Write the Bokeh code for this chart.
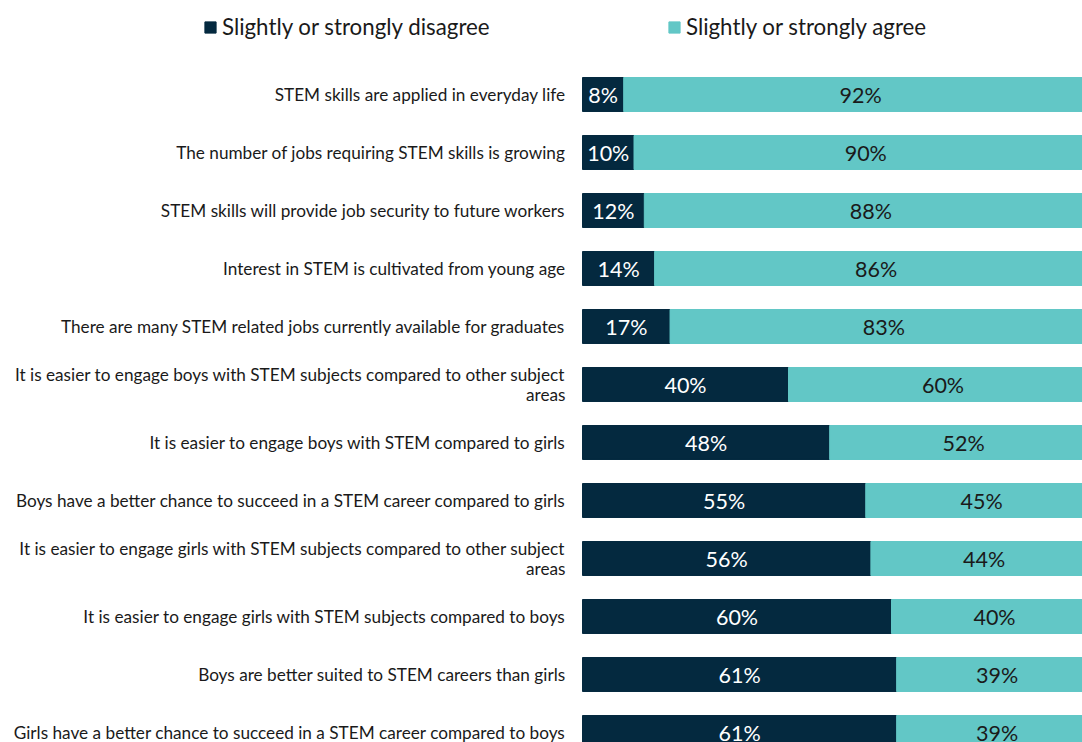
from bokeh.plotting import figure
from bokeh.models import ColumnDataSource, Range1d, Legend, LegendItem
from bokeh.core.properties import value
from bokeh.embed import file_html
from bokeh.resources import INLINE

categories = [
    "STEM skills are applied in everyday life",
    "The number of jobs requiring STEM skills is growing",
    "STEM skills will provide job security to future workers",
    "Interest in STEM is cultivated from young age",
    "There are many STEM related jobs currently available for graduates",
    "It is easier to engage boys with STEM subjects compared to other subject\nareas",
    "It is easier to engage boys with STEM compared to girls",
    "Boys have a better chance to succeed in a STEM career compared to girls",
    "It is easier to engage girls with STEM subjects compared to other subject\nareas",
    "It is easier to engage girls with STEM subjects compared to boys",
    "Boys are better suited to STEM careers than girls",
    "Girls have a better chance to succeed in a STEM career compared to boys",
]
disagree = [8, 10, 12, 14, 17, 40, 48, 55, 56, 60, 61, 61]
agree = [92, 90, 88, 86, 83, 60, 52, 45, 44, 40, 39, 39]
series_names = ["Slightly or strongly disagree", "Slightly or strongly agree"]

DARK = "#04293F"
TEAL = "#62C7C6"
FONT = "Lato"

W, H = 1082, 742
PX = 5.15          # pixels per percent
ROW = 58.0         # pixels per row
x_end = (1082 - 582) / PX
x_start = -582 / PX
y_top = -94 / ROW
y_bot = y_top + H / ROW

idx = list(range(len(categories)))
src = ColumnDataSource(dict(
    y=idx,
    cat=categories,
    d=disagree,
    a=agree,
    a_right=[d + a for d, a in zip(disagree, agree)],
    d_mid=[d / 2 for d in disagree],
    a_mid=[d + a / 2 for d, a in zip(disagree, agree)],
    d_lab=[f"{d}%" for d in disagree],
    a_lab=[f"{a}%" for a in agree],
    lab_x=[-17 / PX] * len(categories),
))

p = figure(width=W, height=H, output_backend="svg", toolbar_location=None,
           x_range=Range1d(x_start, x_end), y_range=Range1d(y_bot, y_top),
           min_border=0, min_border_left=0, min_border_right=0,
           min_border_top=0, min_border_bottom=0)
p.axis.visible = False
p.grid.visible = False
p.outline_line_color = None

r_d = p.hbar(y="y", left=0, right="d", height=0.586, color=DARK, source=src)
r_a = p.hbar(y="y", left="d", right="a_right", height=0.586, color=TEAL, source=src)

p.text(x="d_mid", y="y", text="d_lab", source=src, text_align="center",
       text_baseline="middle", text_color="white", text_font=value(FONT),
       text_font_size="21.5px")
p.text(x="a_mid", y="y", text="a_lab", source=src, text_align="center",
       text_baseline="middle", text_color="#1a1a1a", text_font=value(FONT),
       text_font_size="21.5px")
p.text(x="lab_x", y="y", text="cat", source=src, text_align="right",
       text_baseline="middle", text_color="#1a1a1a", text_font=value(FONT),
       text_font_size="17.2px", text_line_height=0.98)

for r, name, lx in [(r_d, series_names[0], 203), (r_a, series_names[1], 667)]:
    leg = Legend(items=[LegendItem(label=name, renderers=[r])],
                 location=(lx, H - 40), orientation="horizontal",
                 glyph_width=14, glyph_height=14, label_standoff=5,
                 padding=0, margin=0, border_line_color=None,
                 background_fill_alpha=0, label_text_font=FONT,
                 label_text_font_size="22.3px", label_text_color="#1a1a1a")
    p.add_layout(leg)

open("out.html", "w").write(file_html(p, INLINE))
